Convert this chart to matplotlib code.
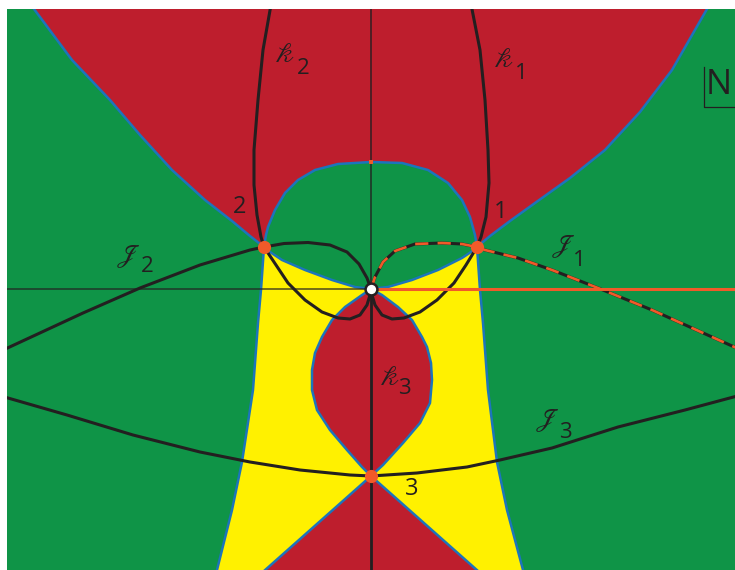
import matplotlib.pyplot as plt
import numpy as np

RED, GREEN, YELLOW = "#BE1E2D", "#0F9447", "#FFF100"
BLUE, ORANGE, INK = "#1C75BC", "#F15A29", "#231F20"

# Curves, in (Re z, Im z); branch point at the origin.
# ---- region boundaries -----------------------------------------------------
left_top = np.array([[-3.37, 2.80], [-2.99, 2.29], [-2.61, 1.89], [-2.31, 1.54],
                     [-1.99, 1.19], [-1.66, 0.89], [-1.39, 0.68], [-1.21, 0.53],
                     [-1.07, 0.42]])
right_top = np.array([[1.06, 0.42], [1.19, 0.53], [1.39, 0.68], [1.64, 0.86],
                      [1.99, 1.11], [2.34, 1.39], [2.69, 1.77], [3.01, 2.19],
                      [3.36, 2.80]])
dome_arc = np.array([[-1.07, 0.42], [-1.05, 0.54], [-1.03, 0.62], [-0.96, 0.79],
                     [-0.86, 0.96], [-0.73, 1.09], [-0.56, 1.19], [-0.33, 1.25],
                     [0.0, 1.27], [0.31, 1.26], [0.57, 1.19], [0.77, 1.06],
                     [0.91, 0.89], [0.99, 0.72], [1.04, 0.54], [1.06, 0.42]])
dome_low = np.array([[-1.07, 0.41], [-0.89, 0.29], [-0.66, 0.19], [-0.39, 0.09],
                     [-0.16, 0.02], [0.0, 0.0], [0.17, 0.02], [0.41, 0.09],
                     [0.67, 0.19], [0.91, 0.31], [1.06, 0.41]])
yellow_right = np.array([[1.06, 0.42], [1.09, -0.01], [1.12, -0.34], [1.17, -1.01],
                         [1.26, -1.73], [1.36, -2.21], [1.52, -2.81], [1.55, -2.90]])
yellow_left = np.array([[-1.07, 0.42], [-1.10, -0.01], [-1.13, -0.34], [-1.18, -1.01],
                        [-1.29, -1.73], [-1.39, -2.21], [-1.54, -2.81], [-1.57, -2.90]])
drop = np.array([[0.0, 0.0], [-0.09, -0.06], [-0.26, -0.18], [-0.39, -0.31],
                 [-0.49, -0.48], [-0.56, -0.64], [-0.59, -0.81], [-0.59, -1.01],
                 [-0.54, -1.21], [-0.41, -1.41], [-0.24, -1.61], [-0.09, -1.78],
                 [0.0, -1.87], [0.12, -1.76], [0.32, -1.54], [0.49, -1.34],
                 [0.59, -1.14], [0.61, -0.91], [0.60, -0.74], [0.56, -0.58],
                 [0.51, -0.48], [0.41, -0.31], [0.27, -0.18], [0.11, -0.06],
                 [0.0, 0.0]])
wedge = np.array([[-1.16, -2.90], [0.0, -1.87], [1.16, -2.90]])

# ---- thimbles ----------------------------------------------------------------
k2 = np.array([[-0.99, 2.90], [-1.08, 2.39], [-1.13, 1.89], [-1.17, 1.39],
               [-1.17, 1.04], [-1.14, 0.74], [-1.10, 0.52], [-1.07, 0.42],
               [-0.95, 0.24], [-0.83, 0.06], [-0.66, -0.11], [-0.49, -0.23],
               [-0.33, -0.29], [-0.21, -0.30], [-0.11, -0.26], [-0.04, -0.16],
               [-0.01, -0.06], [0.0, 0.0]])
k1 = np.array([[0.99, 2.90], [1.09, 2.39], [1.14, 1.89], [1.17, 1.39],
               [1.18, 1.06], [1.15, 0.72], [1.10, 0.52], [1.06, 0.42],
               [0.95, 0.24], [0.83, 0.06], [0.66, -0.11], [0.49, -0.23],
               [0.33, -0.29], [0.21, -0.30], [0.11, -0.26], [0.04, -0.16],
               [0.01, -0.06], [0.0, 0.0]])
j2 = np.array([[-3.70, -0.62], [-2.88, -0.24], [-2.31, 0.01], [-1.71, 0.24],
               [-1.21, 0.39], [-1.07, 0.42], [-0.87, 0.455], [-0.63, 0.465],
               [-0.41, 0.44], [-0.24, 0.37], [-0.12, 0.25], [-0.04, 0.11],
               [0.0, 0.0]])
j1 = np.array([[0.0, 0.0], [0.04, 0.12], [0.12, 0.27], [0.24, 0.38], [0.44, 0.45],
               [0.71, 0.46], [0.91, 0.45], [1.06, 0.42], [1.14, 0.39], [1.47, 0.31],
               [1.81, 0.19], [2.27, 0.01], [2.81, -0.21], [3.70, -0.61]])
j3 = np.array([[-3.70, -1.07], [-3.04, -1.26], [-2.38, -1.46], [-1.71, -1.63],
               [-1.21, -1.73], [-0.71, -1.81], [-0.21, -1.86], [0.0, -1.87],
               [0.46, -1.84], [0.96, -1.78], [1.29, -1.71], [1.81, -1.59],
               [2.47, -1.38], [3.14, -1.21], [3.70, -1.06]])

saddle_x = [1.06, -1.07, 0.0]
saddle_y = [0.42, 0.42, -1.87]
saddle_names = ["1", "2", "3"]

fig = plt.figure(figsize=(7.35, 5.70), dpi=100)
ax = fig.add_axes([7 / 735, 0, 728 / 735, 561 / 570])
ax.set_xlim(-3.64, 3.64)
ax.set_ylim(-2.81, 2.80)
ax.set_facecolor(GREEN)
ax.set_xticks([])
ax.set_yticks([])
for s in ax.spines.values():
    s.set_visible(False)

# filled regions
top = np.vstack([left_top, dome_arc[1:-1], right_top, [[3.36, 3.0], [-3.37, 3.0]]])
ax.fill(top[:, 0], top[:, 1], color=RED, lw=0)
yel = np.vstack([dome_low, yellow_right, yellow_left[::-1]])
ax.fill(yel[:, 0], yel[:, 1], color=YELLOW, lw=0)
ax.fill(drop[:, 0], drop[:, 1], color=RED, lw=0)
ax.fill(wedge[:, 0], wedge[:, 1], color=RED, lw=0)

for c in (left_top, right_top, dome_arc, dome_low, yellow_left, yellow_right, drop, wedge):
    ax.plot(c[:, 0], c[:, 1], color=BLUE, lw=1.8, solid_joinstyle="round")

# axes through the branch point
ax.plot([-3.7, 0], [0, 0], color=INK, lw=1.1, alpha=0.8)
ax.plot([0, 0], [0, 3.0], color=INK, lw=1.1, alpha=0.9)
ax.plot([0, 0], [0, -3.0], color=INK, lw=2.0)

for c in (k1, k2, j1, j2, j3):
    ax.plot(c[:, 0], c[:, 1], color=INK, lw=2.2, solid_joinstyle="round")

# branch cut and the orange dashed thimble
ax.plot([0, 3.7], [0, 0], color=ORANGE, lw=2.2)
ax.plot(j1[:, 0], j1[:, 1], color=ORANGE, lw=1.9, dashes=(5, 3.5))
ax.plot([0], [1.27], marker="s", ms=2.5, color=ORANGE, mew=0)

ax.plot(saddle_x, saddle_y, "o", ms=9.5, color=ORANGE, mew=0)
ax.plot([0], [0], "o", ms=8.5, mfc="white", mec=INK, mew=1.8)

# labels
sans = dict(family="Open Sans", color=INK, ha="center", va="center")
script = dict(math_fontfamily="stix", color=INK, ha="center", va="center", fontsize=20)
for name, (lx, ly) in zip(saddle_names, [(1.30, 0.765), (-1.31, 0.815), (0.405, -2.00)]):
    ax.text(lx, ly, name, fontsize=17, **sans)

thimble_labels = [
    (r"$\mathscr{k}$", "2", (-0.87, 2.35), (-0.68, 2.20)),
    (r"$\mathscr{k}$", "1", (1.32, 2.30), (1.50, 2.15)),
    (r"$\mathscr{k}$", "3", (0.18, -0.88), (0.33, -1.00)),
    (r"$\mathscr{J}$", "2", (-2.435, 0.33), (-2.24, 0.22)),
    (r"$\mathscr{J}$", "1", (1.92, 0.425), (2.08, 0.285)),
    (r"$\mathscr{J}$", "3", (1.76, -1.31), (1.94, -1.44)),
]
for letter, sub, p, q in thimble_labels:
    ax.text(*p, letter, **script)
    ax.text(*q, sub, fontsize=16, **sans)

ax.text(3.48, 2.04, "N", fontsize=25, **sans)
ax.plot([3.33, 3.33, 3.70], [2.22, 1.82, 1.82], color=INK, lw=0.9)

fig.savefig("out.png", dpi=100)
